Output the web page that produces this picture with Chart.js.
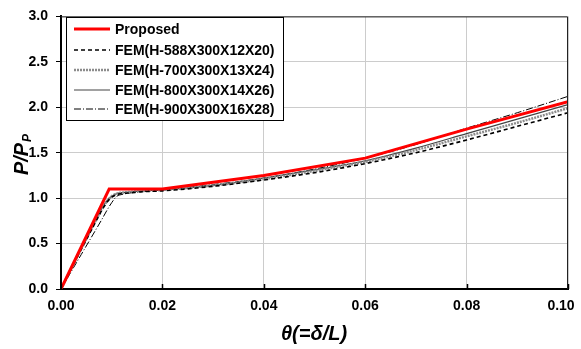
<!DOCTYPE html>
<html>
<head>
<meta charset="utf-8">
<script src="https://cdn.jsdelivr.net/npm/chart.js@4/dist/chart.umd.min.js"></script>
<style>
  html, body { margin: 0; padding: 0; background: #fff; }
  #wrap { width: 581px; height: 349px; }
</style>
</head>
<body>
<div id="wrap"><canvas id="loadChart" width="581" height="349"></canvas></div>
<script>
// rotation theta and normalised load P/Pp
const thetaProposed = [0, 0.0095, 0.02, 0.04, 0.06, 0.08, 0.10];
const proposed = [0, 1.10, 1.10, 1.25, 1.44, 1.76, 2.06];

const thetaFem = [0, 0.002, 0.004, 0.006, 0.008, 0.009, 0.010, 0.011, 0.012, 0.014, 0.016, 0.02, 0.03, 0.04, 0.05, 0.06, 0.07, 0.08, 0.09, 0.10];
const fem588 = [0, 0.22, 0.44, 0.65, 0.86, 0.95, 1.01, 1.04, 1.05, 1.06, 1.07, 1.08, 1.13, 1.20, 1.28, 1.38, 1.50, 1.64, 1.79, 1.94];
const fem700 = [0, 0.22, 0.44, 0.66, 0.87, 0.96, 1.02, 1.05, 1.06, 1.07, 1.08, 1.09, 1.14, 1.21, 1.30, 1.40, 1.53, 1.68, 1.83, 1.99];
const fem800 = [0, 0.22, 0.44, 0.66, 0.88, 0.97, 1.02, 1.05, 1.06, 1.07, 1.08, 1.09, 1.14, 1.22, 1.31, 1.41, 1.55, 1.71, 1.87, 2.03];
const fem900 = [0, 0.19, 0.38, 0.57, 0.76, 0.86, 0.95, 1.02, 1.04, 1.06, 1.07, 1.09, 1.15, 1.22, 1.32, 1.44, 1.59, 1.77, 1.94, 2.12];

const seriesLabels = ['Proposed', 'FEM(H-588X300X12X20)', 'FEM(H-700X300X13X24)', 'FEM(H-800X300X14X26)', 'FEM(H-900X300X16X28)'];
const xTicks = [0, 0.02, 0.04, 0.06, 0.08, 0.10];
const yTicks = [0, 0.5, 1.0, 1.5, 2.0, 2.5, 3.0];

const pts = (xs, ys) => xs.map((x, i) => ({ x: x, y: ys[i] }));

const FONT = 'Arial, "Liberation Sans", sans-serif';

// frame, inner x ticks, titles and a hand drawn legend with dash samples
const extras = {
  id: 'extras',
  afterDraw(chart) {
    const c = chart.ctx;
    const a = chart.chartArea;
    c.save();
    // top / right frame
    c.strokeStyle = '#222';
    c.lineWidth = 1;
    c.beginPath();
    c.moveTo(a.left, a.top + 0.5);
    c.lineTo(a.right - 0.5, a.top + 0.5);
    c.lineTo(a.right - 0.5, a.bottom);
    c.stroke();
    // inward ticks on x axis
    const xs = chart.scales.x;
    c.strokeStyle = '#000';
    c.lineWidth = 1.5;
    xTicks.forEach(v => {
      const px = Math.round(xs.getPixelForValue(v)) + 0.5;
      c.beginPath();
      c.moveTo(px, a.bottom);
      c.lineTo(px, a.bottom - 5);
      c.stroke();
    });

    // axis titles
    c.fillStyle = '#000';
    c.font = 'italic bold 20px ' + FONT;
    c.textAlign = 'center';
    c.textBaseline = 'middle';
    c.fillText('\u03b8(=\u03b4/L)', 314, 334);

    c.save();
    c.translate(20, 155);
    c.rotate(-Math.PI / 2);
    c.textAlign = 'left';
    c.textBaseline = 'alphabetic';
    c.font = 'italic bold 20px ' + FONT;
    const w1 = c.measureText('P/P').width;
    c.font = 'italic bold 12px ' + FONT;
    const w2 = c.measureText('P').width;
    const start = -(w1 + w2) / 2;
    c.font = 'italic bold 20px ' + FONT;
    c.fillText('P/P', start, 8);
    c.font = 'italic bold 12px ' + FONT;
    c.fillText('P', start + w1 + 1, 11);
    c.restore();

    // legend
    const lx = 66.5, ly = 17.5, lw = 217, lh = 103;
    c.fillStyle = '#fff';
    c.fillRect(lx, ly, lw, lh);
    c.strokeStyle = '#000';
    c.lineWidth = 1;
    c.strokeRect(lx, ly, lw, lh);
    const rows = [29, 50, 70, 90, 109];
    c.font = 'bold 14px ' + FONT;
    c.textAlign = 'left';
    c.textBaseline = 'middle';
    chart.data.datasets.forEach((ds, i) => {
      const y = rows[i];
      c.save();
      c.strokeStyle = ds.borderColor;
      c.lineWidth = ds.borderWidth;
      c.setLineDash(ds.borderDash || []);
      c.beginPath();
      c.moveTo(74, y);
      c.lineTo(110, y);
      c.stroke();
      c.restore();
      c.fillStyle = '#000';
      c.fillText(ds.label, 115, y + 1);
    });
    c.restore();
  }
};

const lineStyle = { showLine: true, pointRadius: 0, fill: false };

new Chart(document.getElementById('loadChart'), {
  type: 'scatter',
  data: {
    datasets: [
      Object.assign({ label: seriesLabels[0], data: pts(thetaProposed, proposed), borderColor: '#ff0000', borderWidth: 3, tension: 0 }, lineStyle),
      Object.assign({ label: seriesLabels[1], data: pts(thetaFem, fem588), borderColor: '#000000', borderWidth: 1.6, borderDash: [4, 3], cubicInterpolationMode: 'monotone' }, lineStyle),
      Object.assign({ label: seriesLabels[2], data: pts(thetaFem, fem700), borderColor: '#8c8c8c', borderWidth: 2.5, borderDash: [2, 1], cubicInterpolationMode: 'monotone' }, lineStyle),
      Object.assign({ label: seriesLabels[3], data: pts(thetaFem, fem800), borderColor: '#444444', borderWidth: 1.2, cubicInterpolationMode: 'monotone' }, lineStyle),
      Object.assign({ label: seriesLabels[4], data: pts(thetaFem, fem900), borderColor: '#000000', borderWidth: 1, borderDash: [7, 2, 1, 2], cubicInterpolationMode: 'monotone' }, lineStyle)
    ]
  },
  options: {
    responsive: false,
    animation: false,
    layout: { padding: { left: 0, top: 14, right: 13, bottom: 0 } },
    plugins: {
      legend: { display: false },
      tooltip: { enabled: false }
    },
    scales: {
      x: {
        type: 'linear',
        min: 0,
        max: 0.1,
        afterFit(s) { s.height = 60; s.paddingRight = 0; s.paddingLeft = 0; },
        afterBuildTicks(s) { s.ticks = xTicks.map(v => ({ value: v })); },
        grid: { color: '#cccccc', lineWidth: 1, drawTicks: false },
        border: { color: '#000', width: 2 },
        ticks: {
          padding: 9,
          color: '#000',
          font: { family: FONT, size: 14, weight: 'bold' },
          // last label sits a little left of its gridline, as in the figure
          callback: v => v >= 0.1 ? v.toFixed(2) + '\u2002\u2002' : v.toFixed(2)
        }
      },
      y: {
        min: 0,
        max: 3,
        afterFit(s) { s.width = 61; },
        afterBuildTicks(s) { s.ticks = yTicks.map(v => ({ value: v })); },
        grid: { color: '#cccccc', lineWidth: 1, tickLength: 5, tickColor: '#000' },
        border: { color: '#000', width: 2 },
        ticks: {
          padding: 8,
          color: '#000',
          font: { family: FONT, size: 14, weight: 'bold' },
          callback: v => v.toFixed(1)
        }
      }
    }
  },
  plugins: [extras]
});
</script>
</body>
</html>
